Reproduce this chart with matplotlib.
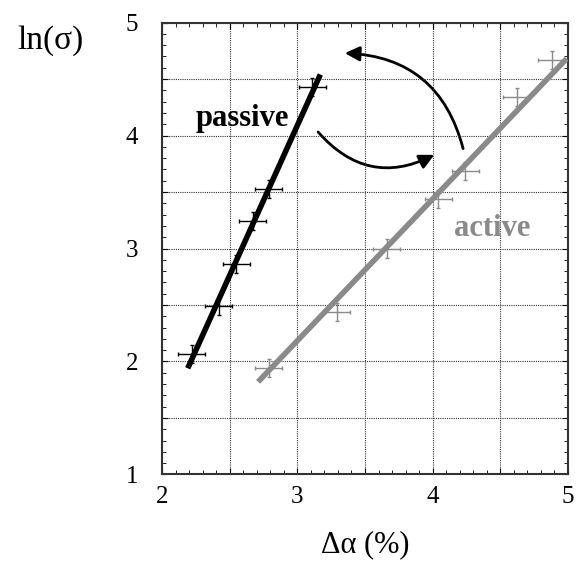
import numpy as np
import matplotlib
matplotlib.use('Agg')
import matplotlib.pyplot as plt
from matplotlib.patches import FancyArrowPatch
from matplotlib.ticker import MultipleLocator, FuncFormatter

# ---- data ----
passive_x = [2.22, 2.42, 2.55, 2.67, 2.79, 3.11]
passive_y = [2.07, 2.49, 2.86, 3.24, 3.53, 4.43]
passive_fit_x = [2.19, 3.17]
passive_fit_y = [1.94, 4.54]

active_x = [2.79, 3.29, 3.66, 4.04, 4.24, 4.62, 4.88]
active_y = [1.94, 2.44, 3.00, 3.44, 3.69, 4.34, 4.67]
active_fit_x = [2.71, 4.99]
active_fit_y = [1.82, 4.68]

plt.rcParams['font.family'] = ['Liberation Serif', 'DejaVu Serif']

fig = plt.figure(figsize=(5.78, 5.66), dpi=100)
ax = fig.add_axes([0.2803, 0.1617, 0.7024, 0.7985])

gray = '#8a8a8a'

ax.plot(passive_fit_x, passive_fit_y, color='black', lw=4, solid_capstyle='butt', zorder=3)
ax.plot(active_fit_x, active_fit_y, color=gray, lw=4, solid_capstyle='butt', zorder=3)

ax.errorbar(passive_x, passive_y, xerr=0.1, yerr=0.08, fmt='none', ecolor='black',
            elinewidth=1, capsize=1.5, zorder=4)
ax.errorbar(active_x, active_y, xerr=0.1, yerr=0.08, fmt='none', ecolor=gray,
            elinewidth=1, capsize=1.5, zorder=4)

ax.text(2.59, 4.15, 'passive', fontsize=22, fontweight='bold', ha='center', va='center')
ax.text(4.44, 3.18, 'active', fontsize=22, fontweight='bold', color=gray,
        ha='center', va='center')

ax.add_patch(FancyArrowPatch((4.23, 3.86), (3.33, 4.73), connectionstyle='arc3,rad=0.38',
                             arrowstyle='-|>', mutation_scale=22, lw=2, color='black'))
ax.add_patch(FancyArrowPatch((3.14, 4.05), (4.03, 3.84), connectionstyle='arc3,rad=0.4',
                             arrowstyle='-|>', mutation_scale=22, lw=2, color='black'))

ax.set_xlim(2, 5)
ax.set_ylim(1, 5)
ax.xaxis.set_major_locator(MultipleLocator(0.5))
ax.yaxis.set_major_locator(MultipleLocator(0.5))
ax.xaxis.set_minor_locator(MultipleLocator(0.1))
ax.yaxis.set_minor_locator(MultipleLocator(0.1))
fmt = FuncFormatter(lambda v, p: '%d' % v if abs(v - round(v)) < 1e-6 else '')
ax.xaxis.set_major_formatter(fmt)
ax.yaxis.set_major_formatter(fmt)
ax.tick_params(which='both', direction='in', top=True, right=True, labelsize=18)
ax.tick_params(which='major', length=4)
ax.tick_params(which='minor', length=3)
ax.tick_params(axis='x', pad=8)
ax.tick_params(axis='y', pad=17)
ax.grid(True, which='major', color='#333333', linestyle=(0, (1, 1)), lw=0.8)

for s in ax.spines.values():
    s.set_linewidth(1.5)
    s.set_color('#333333')

ax.set_xlabel('Δα (%)', fontsize=22, labelpad=16)
fig.text(0.087, 0.928, 'ln(σ)', fontsize=24, ha='center', va='center')

fig.savefig('out.png', dpi=100)
